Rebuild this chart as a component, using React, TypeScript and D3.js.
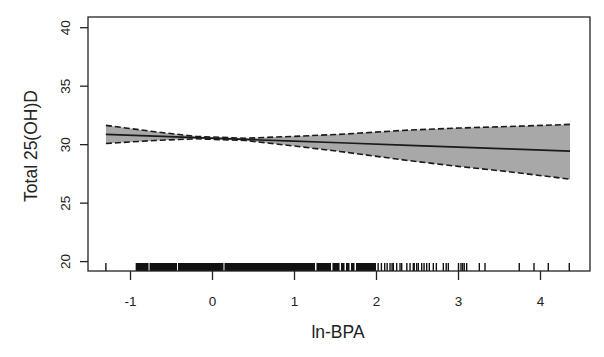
import React from "react";
import * as d3 from "d3";

// Fitted curve and 95% band (ln-BPA vs Total 25(OH)D)
const fitX = [-1.3, -0.7, -0.2, 0.4, 1.0, 1.55, 2.4, 3.0, 3.6, 4.36];
const fitY = [30.88, 30.73, 30.6, 30.45, 30.3, 30.16, 29.94, 29.79, 29.64, 29.45];
const upperY = [31.65, 31.1, 30.7, 30.55, 30.71, 30.88, 31.25, 31.42, 31.55, 31.73];
const lowerY = [30.1, 30.36, 30.5, 30.36, 29.88, 29.42, 28.63, 28.14, 27.7, 27.05];

// Rug: dense stretches (start, end) and single observations
const rugDenseStart = [-0.937, -0.768, -0.421, 0.146, 1.268, 1.463, 1.567, 1.628, 1.689, 1.75];
const rugDenseEnd = [-0.78, -0.433, 0.134, 1.25, 1.445, 1.549, 1.61, 1.671, 1.732, 1.994];
const rugSingles = [
  -1.3, 2.02, 2.06, 2.1, 2.13, 2.165, 2.19, 2.205, 2.246, 2.287, 2.307, 2.37, 2.409, 2.449,
  2.46, 2.49, 2.51, 2.551, 2.58, 2.612, 2.644, 2.693, 2.73, 2.815, 2.85, 2.876, 3.0, 3.03,
  3.05, 3.07, 3.1, 3.254, 3.323, 3.741, 3.921, 4.095, 4.351,
];

const xTicks = [-1, 0, 1, 2, 3, 4];
const yTicks = [20, 25, 30, 35, 40];
const xLabel = "ln-BPA";
const yLabel = "Total 25(OH)D";

export default function App() {
  const W = 604;
  const H = 357;
  const x = d3.scaleLinear().domain([-1, 4]).range([130.5, 540.5]);
  const y = d3.scaleLinear().domain([20, 40]).range([261.6, 27.7]);
  const box = { x0: 88, x1: 590, y0: 17, y1: 271 };
  const font = "'Liberation Sans', Arial, sans-serif";

  const pts = fitX.map((v, i) => ({ x: v, f: fitY[i], u: upperY[i], l: lowerY[i] }));
  const area = d3
    .area<any>()
    .x((d) => x(d.x))
    .y0((d) => y(d.l))
    .y1((d) => y(d.u));
  const line = (key: string) =>
    d3
      .line<any>()
      .x((d) => x(d.x))
      .y((d) => y(d[key]))(pts) as string;

  return (
    <div style={{ position: "fixed", left: 0, top: 0 }}>
      <svg width={W} height={H} style={{ display: "block", background: "#fff" }}>
        <rect x={0} y={0} width={W} height={H} fill="#fff" />
        {/* band */}
        <path d={area(pts) as string} fill="#a8a8a8" stroke="none" />
        <path d={line("u")} fill="none" stroke="#1a1a1a" strokeWidth={1.6} strokeDasharray="6,3" />
        <path d={line("l")} fill="none" stroke="#1a1a1a" strokeWidth={1.6} strokeDasharray="6,3" />
        <path d={line("f")} fill="none" stroke="#1a1a1a" strokeWidth={1.6} />

        {/* rug */}
        {rugDenseStart.map((s, i) => (
          <rect
            key={"d" + i}
            x={x(s)}
            y={263}
            width={Math.max(1, x(rugDenseEnd[i]) - x(s))}
            height={box.y1 - 263}
            fill="#111"
          />
        ))}
        {rugSingles.map((v, i) => (
          <line key={"s" + i} x1={x(v)} x2={x(v)} y1={263} y2={box.y1} stroke="#111" strokeWidth={1.4} />
        ))}

        {/* box */}
        <rect
          x={box.x0}
          y={box.y0}
          width={box.x1 - box.x0}
          height={box.y1 - box.y0}
          fill="none"
          stroke="#222"
          strokeWidth={1.3}
        />

        {/* x axis */}
        {xTicks.map((t) => (
          <g key={"xt" + t}>
            <line x1={x(t)} x2={x(t)} y1={box.y1} y2={280} stroke="#222" strokeWidth={1.3} />
            <text
              x={x(t)}
              y={305.5}
              textAnchor="middle"
              fontFamily={font}
              fontSize={13.5}
              fill="#222"
            >
              {t < 0 ? "-" + Math.abs(t) : t}
            </text>
          </g>
        ))}
        <text x={338} y={338} textAnchor="middle" fontFamily={font} fontSize={17.5} fill="#222">
          {xLabel}
        </text>

        {/* y axis */}
        {yTicks.map((t) => (
          <g key={"yt" + t}>
            <line x1={80} x2={box.x0} y1={y(t)} y2={y(t)} stroke="#222" strokeWidth={1.3} />
            <text
              transform={`translate(70,${y(t)}) rotate(-90)`}
              textAnchor="middle"
              fontFamily={font}
              fontSize={13.5}
              fill="#222"
            >
              {t}
            </text>
          </g>
        ))}
        <text
          transform={`translate(37,146) rotate(-90)`}
          textAnchor="middle"
          fontFamily={font}
          fontSize={17.5}
          fill="#222"
        >
          {yLabel}
        </text>
      </svg>
    </div>
  );
}
